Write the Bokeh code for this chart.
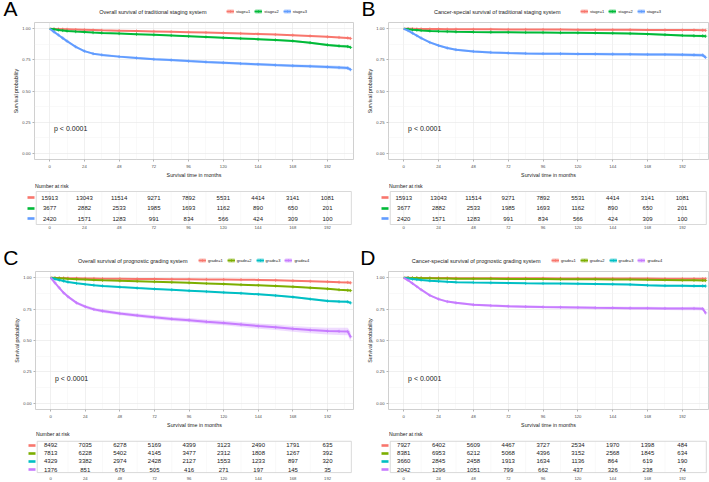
from bokeh.plotting import figure
from bokeh.layouts import column, row
from bokeh.models import (ColumnDataSource, Label, Legend, LegendItem, FixedTicker,
                          Range1d, PrintfTickFormatter, LinearAxis)
from bokeh.core.properties import value
from bokeh.embed import file_html
from bokeh.resources import INLINE

FONT = "Liberation Sans"

# ---------------- data ----------------
months = [0, 3, 6, 9, 12, 18, 24, 30, 36, 48, 60, 72, 84, 96, 108, 120,
          132, 144, 156, 168, 180, 192, 200, 206, 208]

# overall survival, traditional staging
os_stage1 = [1.0, .998, .997, .996, .995, .993, .991, .989, .987, .984, .981, .978, .975,
             .972, .969, .966, .962, .958, .953, .948, .942, .935, .930, .926, .922]
os_stage2 = [1.0, .995, .990, .986, .982, .977, .973, .969, .966, .961, .956, .951, .946,
             .940, .934, .928, .922, .916, .910, .902, .888, .870, .862, .857, .850]
os_stage3 = [1.0, .975, .950, .925, .900, .855, .820, .800, .790, .776, .765, .755, .748,
             .740, .733, .727, .720, .714, .708, .703, .698, .693, .688, .684, .672]

# cancer-specific survival, traditional staging
css_stage1 = [1.0, .999, .999, .998, .998, .997, .997, .996, .996, .995, .995, .994, .994,
              .993, .993, .992, .992, .991, .991, .990, .990, .989, .989, .988, .987]
css_stage2 = [1.0, .996, .992, .989, .986, .982, .979, .977, .975, .973, .972, .971, .970,
              .969, .968, .967, .966, .964, .961, .957, .952, .946, .943, .942, .940]
css_stage3 = [1.0, .985, .965, .945, .925, .890, .865, .845, .832, .818, .810, .805, .802,
              .800, .799, .798, .797, .796, .795, .794, .793, .792, .790, .788, .770]

# overall survival, prognostic grading
os_grade1 = [1.0, .999, .998, .998, .997, .996, .995, .994, .993, .992, .991, .990, .989,
             .988, .987, .986, .985, .983, .980, .976, .972, .968, .965, .963, .960]
os_grade2 = [1.0, .998, .996, .994, .992, .989, .986, .983, .980, .976, .972, .968, .964,
             .960, .955, .950, .945, .940, .935, .928, .920, .912, .905, .900, .898]
os_grade3 = [1.0, .990, .982, .974, .966, .956, .948, .941, .935, .926, .918, .911, .904,
             .897, .890, .883, .876, .868, .858, .846, .830, .815, .810, .808, .800]
os_grade4 = [1.0, .960, .920, .880, .850, .800, .770, .748, .735, .715, .700, .685, .672,
             .662, .650, .640, .628, .615, .605, .593, .583, .575, .573, .572, .530]

# cancer-specific survival, prognostic grading
css_grade1 = [1.0, 1.0, .999, .999, .999, .998, .998, .998, .997, .997, .997, .996, .996,
              .996, .995, .995, .995, .994, .994, .994, .993, .993, .993, .992, .992]
css_grade2 = [1.0, .999, .998, .998, .997, .996, .995, .994, .993, .992, .992, .991, .991,
              .990, .989, .989, .988, .987, .986, .985, .983, .981, .980, .979, .978]
css_grade3 = [1.0, .995, .990, .986, .982, .976, .972, .968, .965, .962, .960, .958, .956,
              .955, .954, .953, .951, .949, .946, .940, .937, .936, .935, .935, .934]
css_grade4 = [1.0, .980, .955, .930, .905, .860, .830, .810, .800, .785, .778, .773, .770,
              .767, .765, .763, .761, .760, .758, .757, .756, .755, .755, .753, .720]

# half-widths of the 95% confidence bands
band_narrow = [0, .001, .001, .001, .001, .001, .002, .002, .002, .002, .002, .002, .003,
               .003, .003, .003, .003, .004, .004, .004, .004, .005, .005, .005, .006]
band_mid = [0, .002, .002, .003, .003, .003, .003, .004, .004, .004, .004, .005, .005,
            .005, .005, .006, .006, .006, .007, .007, .008, .009, .010, .010, .011]
band_wide = [0, .003, .004, .005, .006, .007, .008, .008, .009, .009, .009, .009, .010,
             .010, .010, .010, .011, .011, .011, .012, .012, .013, .014, .014, .015]
band_widest = [0, .004, .006, .008, .009, .011, .012, .013, .014, .014, .015, .016, .016,
               .017, .018, .019, .020, .021, .022, .023, .025, .027, .029, .030, .035]

# numbers at risk
risk_months = [0, 24, 48, 72, 96, 120, 144, 168, 192]
risk_stage1 = [15913, 13043, 11514, 9271, 7892, 5531, 4414, 3141, 1081]
risk_stage2 = [3677, 2882, 2533, 1985, 1693, 1162, 890, 650, 201]
risk_stage3 = [2420, 1571, 1283, 991, 834, 566, 424, 309, 100]

risk_os_grade1 = [8492, 7035, 6278, 5169, 4399, 3123, 2490, 1791, 635]
risk_os_grade2 = [7813, 6228, 5402, 4145, 3477, 2312, 1808, 1267, 392]
risk_os_grade3 = [4329, 3382, 2974, 2428, 2127, 1553, 1233, 897, 320]
risk_os_grade4 = [1376, 851, 676, 505, 416, 271, 197, 145, 35]

risk_css_grade1 = [7927, 6402, 5609, 4467, 3727, 2534, 1970, 1398, 484]
risk_css_grade2 = [8381, 6953, 6212, 5068, 4396, 3152, 2568, 1845, 634]
risk_css_grade3 = [3660, 2845, 2458, 1913, 1634, 1136, 864, 619, 190]
risk_css_grade4 = [2042, 1296, 1051, 799, 662, 437, 326, 238, 74]

stage_labels = ["stage=1", "stage=2", "stage=3"]
grade_labels = ["grade=1", "grade=2", "grade=3", "grade=4"]
stage_colors = ["#F8766D", "#00BA38", "#619CFF"]
grade_colors = ["#F8766D", "#7CAE00", "#00BFC4", "#C77CFF"]

x_ticks = [0, 24, 48, 72, 96, 120, 144, 168, 192]
x_minor = [12, 36, 60, 84, 108, 132, 156, 180, 204]
y_ticks = [0, 0.25, 0.5, 0.75, 1.0]
y_minor = [0.125, 0.375, 0.625, 0.875]

# ---------------- geometry ----------------
X_START, X_END = -10.5, 210.0
LEFT = 33            # left border shared by every plot of a panel column
FRAME_W = 320
HEADER_Y0 = 10.0     # header y-range sits above every survival value


def base_fig(width, height, x_range, y_range, **kw):
    f = figure(width=width, height=height, x_range=x_range, y_range=y_range,
               output_backend="svg", toolbar_location=None,
               min_border_left=LEFT, min_border_right=width - LEFT - FRAME_W, **kw)
    f.background_fill_color = "white"
    f.border_fill_color = "white"
    return f


def strata_sources(curves, bands):
    out = []
    for surv, hw in zip(curves, bands):
        lo = [s - h for s, h in zip(surv, hw)]
        hi = [min(1.0, s + h) for s, h in zip(surv, hw)]
        out.append((ColumnDataSource(dict(t=months, s=surv, lo=lo, hi=hi)),
                    ColumnDataSource(dict(t=months[1:], s=surv[1:]))))
    return out


def draw_strata(fig, col, src, cens):
    band = fig.varea(x="t", y1="lo", y2="hi", source=src, fill_color=col, fill_alpha=0.28)
    ln = fig.line(x="t", y="s", source=src, line_color=col, line_width=2.0)
    mk = fig.scatter(x="t", y="s", source=cens, marker="cross", size=3.2,
                     line_color=col, line_width=0.8)
    return [band, ln, mk]


def header_figure(width, height, letter, letter_y, letter_gap, title, title_right,
                  text_y, legend_x, labels, colors, sources):
    """Panel letter, title and strata legend above a survival panel."""
    h = base_fig(width, height, Range1d(X_START, X_END),
                 Range1d(HEADER_Y0, HEADER_Y0 + height),
                 x_axis_location=None, min_border_top=0, min_border_bottom=0)
    h.outline_line_color = None
    h.grid.visible = False

    # the panel letter is carried by the header's left axis
    ax = h.yaxis[0]
    tick = HEADER_Y0 + height - letter_y
    ax.ticker = FixedTicker(ticks=[tick])
    ax.major_label_overrides = {tick: letter}
    ax.axis_line_color = None
    ax.major_tick_line_color = None
    ax.major_tick_out = 0
    ax.major_tick_in = 0
    ax.minor_tick_line_color = None
    ax.major_label_standoff = int(letter_gap)
    ax.major_label_text_font = FONT
    ax.major_label_text_font_size = "21px"
    ax.major_label_text_color = "black"

    # strata keys: same curves, drawn below this header's visible range
    items = []
    for lab, col, (src, cens) in zip(labels, colors, sources):
        items.append(LegendItem(label=lab, renderers=draw_strata(h, col, src, cens)))
    h.add_layout(Legend(items=items, orientation="horizontal",
                        location=(legend_x - LEFT, text_y - 3),
                        label_text_font=FONT, label_text_font_size="4px",
                        label_text_color="#1a1a1a",
                        glyph_width=8, glyph_height=6, label_standoff=2, spacing=4,
                        padding=0, margin=0, label_height=6, label_width=10,
                        border_line_color=None, background_fill_alpha=0))
    h.add_layout(Label(x=title_right - LEFT, y=text_y, x_units="screen", y_units="screen",
                       text=title, text_font=FONT, text_font_size="5.5px",
                       text_align="right", text_baseline="middle",
                       text_color="#1a1a1a"))
    return h


def km_figure(width, height, top, bottom, colors, sources):
    p = base_fig(width, height, Range1d(X_START, X_END), Range1d(-0.05, 1.05),
                 min_border_top=top, min_border_bottom=bottom)
    p.outline_line_color = "#c4c4c4"
    p.outline_line_width = 0.8

    p.xaxis.ticker = FixedTicker(ticks=x_ticks, minor_ticks=x_minor)
    p.yaxis.ticker = FixedTicker(ticks=y_ticks, minor_ticks=y_minor)
    p.yaxis.formatter = PrintfTickFormatter(format="%.2f")
    for ax in (p.xaxis[0], p.yaxis[0]):
        ax.axis_line_color = None
        ax.major_tick_line_color = "#b3b3b3"
        ax.major_tick_out = 2
        ax.major_tick_in = 0
        ax.minor_tick_line_color = None
        ax.major_label_text_font = FONT
        ax.major_label_text_font_size = "4.2px"
        ax.major_label_text_color = "#4d4d4d"
        ax.axis_label_text_font = FONT
        ax.axis_label_text_font_size = "5.3px"
        ax.axis_label_text_font_style = "normal"
        ax.axis_label_text_color = "#1a1a1a"
    p.xaxis.major_label_standoff = 1
    p.xaxis.axis_label_standoff = 1
    p.yaxis.major_label_standoff = 0
    p.yaxis.axis_label_standoff = 0
    p.xaxis.axis_label = "Survival time in months"
    p.yaxis.axis_label = "Survival probability"
    for g in (p.xgrid[0], p.ygrid[0]):
        g.grid_line_color = "#e6e6e6"
        g.grid_line_width = 0.6
        g.minor_grid_line_color = "#f3f3f3"
        g.minor_grid_line_width = 0.5

    for col, (src, cens) in zip(colors, sources):
        draw_strata(p, col, src, cens)

    p.add_layout(Label(x=3, y=0.2, text="p < 0.0001", text_font=FONT,
                       text_font_size="7px", text_baseline="middle",
                       text_color="#1a1a1a"))
    return p


def risk_figure(width, height, bottom, colors, risks, row_first, row_last,
                box_top, box_bottom, title_px):
    """Number-at-risk table; vertical positions given in pixels from the table top."""
    n = len(risks)
    frame_h = height - bottom
    step = (row_last - row_first) / (n - 1)

    def y_of(px):
        return n - (px - row_first) / step

    t = base_fig(width, height, Range1d(X_START, X_END), Range1d(y_of(frame_h), y_of(0)),
                 y_axis_location=None, min_border_top=0, min_border_bottom=bottom)
    t.outline_line_color = None
    t.grid.visible = False
    t.xaxis.ticker = FixedTicker(ticks=x_ticks)
    ax = t.xaxis[0]
    ax.axis_line_color = None
    ax.major_tick_line_color = None
    ax.major_tick_out = 0
    ax.minor_tick_line_color = None
    ax.major_label_text_font = FONT
    ax.major_label_text_font_size = "4.2px"
    ax.major_label_text_color = "#4d4d4d"
    ax.major_label_standoff = 0

    yb, yt = y_of(box_bottom), y_of(box_top)
    t.segment(x0=x_minor[:-1], x1=x_minor[:-1], y0=yb, y1=yt,
              line_color="#f3f3f3", line_width=0.5)
    t.segment(x0=x_ticks, x1=x_ticks, y0=yb, y1=yt, line_color="#e8e8e8", line_width=0.6)
    t.quad(left=-9.3, right=208.5, bottom=yb, top=yt,
           fill_color=None, line_color="#cfcfcf", line_width=0.8)

    for i, (col, r) in enumerate(zip(colors, risks)):
        yrow = n - i
        # colour key of the stratum: a left-axis tick pointing outwards
        key = LinearAxis(ticker=FixedTicker(ticks=[yrow]), major_label_overrides={yrow: ""},
                         axis_line_color=None, major_tick_out=0, major_tick_in=-7,
                         major_tick_line_color=col, major_tick_line_width=2.6,
                         minor_tick_line_color=None, major_label_standoff=0)
        t.add_layout(key, "left")
        src = ColumnDataSource(dict(x=risk_months, y=[yrow] * len(r),
                                    txt=[str(v) for v in r]))
        t.text(x="x", y="y", text="txt", source=src, text_align="center",
               text_baseline="middle", text_font=value(FONT),
               text_font_size="6px", text_color="#1a1a1a")

    t.add_layout(Label(x=-10.2, y=y_of(title_px), text="Number at risk",
                       text_font=FONT, text_font_size="5.2px",
                       text_baseline="middle", text_color="#1a1a1a"))
    return t


def panel(width, head_h, main_h, risk_h, risk_bottom, letter, letter_y, letter_gap,
          title, title_right, legend_x, labels, colors, curves, bands, risks, table_px):
    sources = strata_sources(curves, bands)
    head = header_figure(width, head_h, letter, letter_y, letter_gap, title, title_right,
                         10, legend_x, labels, colors, sources)
    main = km_figure(width, main_h, 1, 16, colors, sources)
    risk = risk_figure(width, risk_h, risk_bottom, colors, risks, *table_px)
    return column(head, main, risk)


STAGE_TABLE = (17, 38, 11, 44, 5)
GRADE_TABLE = (15, 40, 11, 43, 4)

a = panel(355, 21, 159, 51, 6, "A", 11.5, 17,
          "Overall survival of traditional staging system", 205, 225,
          stage_labels, stage_colors, [os_stage1, os_stage2, os_stage3],
          [band_narrow, band_mid, band_wide],
          [risk_stage1, risk_stage2, risk_stage3], STAGE_TABLE)
b = panel(354, 21, 159, 51, 6, "B", 11.5, 13,
          "Cancer-special survival of traditional staging system", 205, 225,
          stage_labels, stage_colors, [css_stage1, css_stage2, css_stage3],
          [band_narrow, band_mid, band_wide],
          [risk_stage1, risk_stage2, risk_stage3], STAGE_TABLE)
c = panel(355, 39, 160, 52, 5, "C", 26, 17,
          "Overall survival of prognostic grading system", 185, 196,
          grade_labels, grade_colors, [os_grade1, os_grade2, os_grade3, os_grade4],
          [band_narrow, band_narrow, band_mid, band_widest],
          [risk_os_grade1, risk_os_grade2, risk_os_grade3, risk_os_grade4], GRADE_TABLE)
d = panel(354, 39, 160, 52, 5, "D", 26, 13,
          "Cancer-special survival of prognostic grading system", 185, 196,
          grade_labels, grade_colors, [css_grade1, css_grade2, css_grade3, css_grade4],
          [band_narrow, band_narrow, band_mid, band_wide],
          [risk_css_grade1, risk_css_grade2, risk_css_grade3, risk_css_grade4], GRADE_TABLE)

layout = column(row(a, b), row(c, d))

open("out.html", "w").write(file_html(layout, INLINE))
